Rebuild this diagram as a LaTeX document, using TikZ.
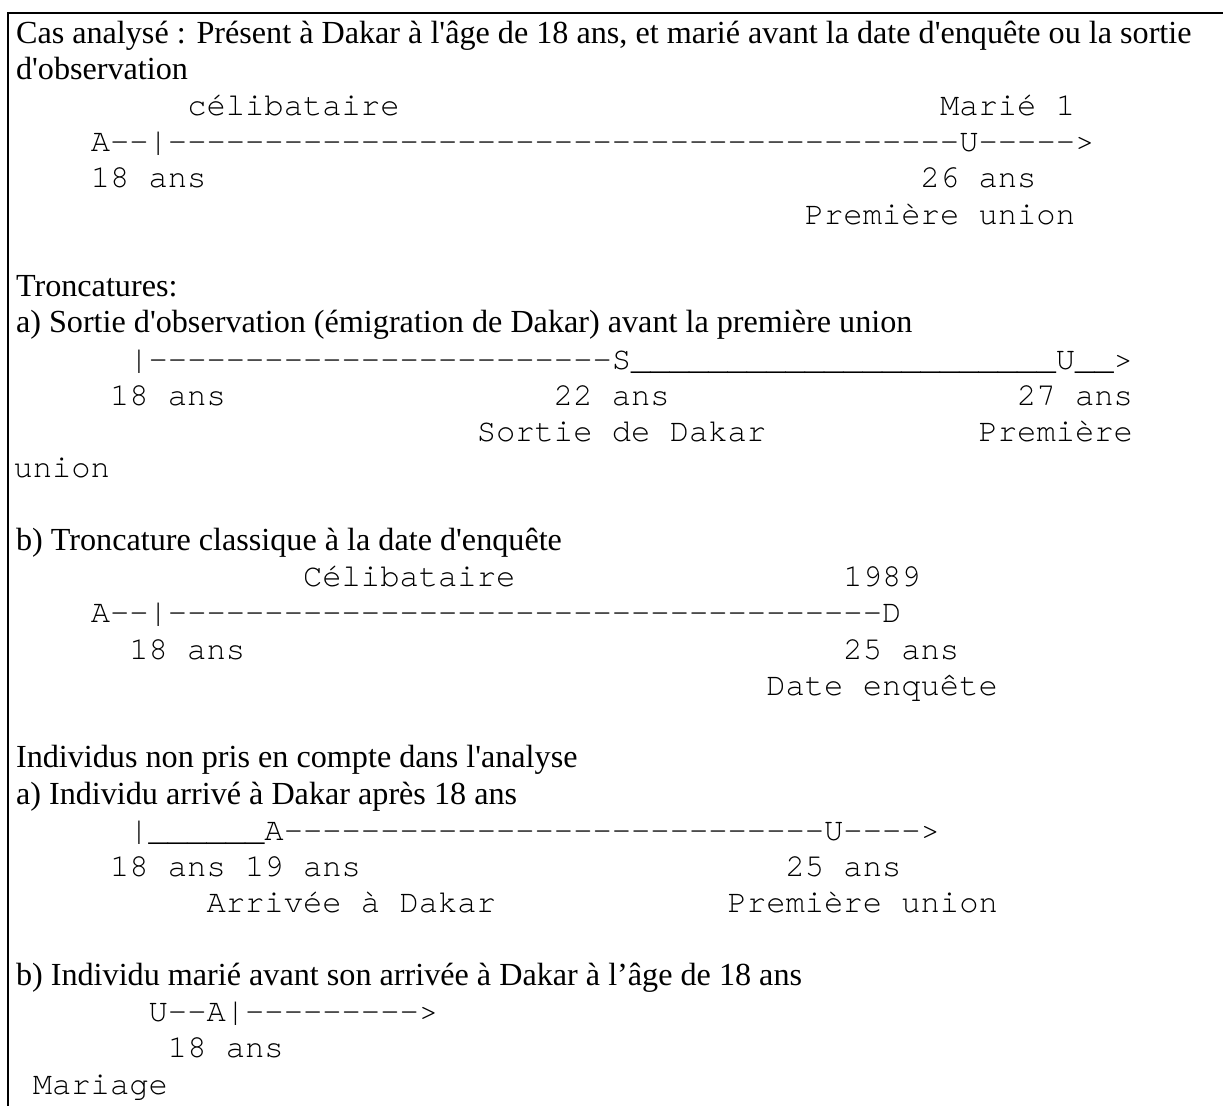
\documentclass[tikz,border=0pt]{standalone}
\usepackage{fontspec}
\setmainfont{Liberation Serif}
\setmonofont{texgyrecursor}[Extension=.otf,UprightFont=*-regular]
\newcommand{\rep}[2]{\foreach\i in {1,...,#1}{#2}}
\newcommand{\q}{\textquotesingle}
\begin{document}
\begin{tikzpicture}[x=7.2pt,y=-13.52pt,
  prose/.style={anchor=base west,inner sep=0pt,font=\fontsize{12}{14}\selectfont},
  typed/.style={anchor=base west,inner sep=0pt,font=\fontsize{12}{14}\selectfont\ttfamily}]
\useasboundingbox (-0.674,-1.187) rectangle (62.69,29.33);
\draw[line width=.75pt](62.69,-0.836)-|(-0.244,29.33);
% cas analyse
\node[prose] (cas) at (0.13,0) {Cas analysé : Présent à Dakar à l\q âge de 18 ans, et marié avant la date d\q enquête ou la sortie};
\node[prose] (cas2) at (0.13,1) {d\q observation};
\node[typed] (celib) at (9,2) {célibataire};
\node[typed] (marie) at (48,2) {Marié 1};
\node[typed] (axe1) at (4,3) {A--|\rep{41}{-}U-----{}>};
\node[typed] (age18a) at (4,4) {18 ans};
\node[typed] (age26) at (47,4) {26 ans};
\node[typed] (union1) at (41,5) {Première union};
% troncatures
\node[prose] (tronc) at (0.13,7) {Troncatures:};
\node[prose] (tronca) at (0.13,8) {a) Sortie d\q observation (émigration de Dakar) avant la première union};
\node[typed] (axe2) at (6,9) {|\rep{24}{-}S\rep{22}{\_}U\_\_>};
\node[typed] (age18b) at (5,10) {18 ans};
\node[typed] (age22) at (28,10) {22 ans};
\node[typed] (age27) at (52,10) {27 ans};
\node[typed] (sortie) at (24,11) {Sortie de Dakar};
\node[typed] (union2) at (50,11) {Première};
\node[typed] (union2b) at (0,12) {union};
\node[prose] (troncb) at (0.13,14) {b) Troncature classique à la date d\q enquête};
\node[typed] (celib2) at (15,15) {Célibataire};
\node[typed] (an1989) at (43,15) {1989};
\node[typed] (axe3) at (4,16) {A--|\rep{37}{-}D};
\node[typed] (age18c) at (6,17) {18 ans};
\node[typed] (age25a) at (43,17) {25 ans};
\node[typed] (enquete) at (39,18) {Date enquête};
% individus exclus
\node[prose] (exclus) at (0.13,20) {Individus non pris en compte dans l\q analyse};
\node[prose] (exclusa) at (0.13,21) {a) Individu arrivé à Dakar après 18 ans};
\node[typed] (axe4) at (6,22) {|\rep{6}{\_}A\rep{28}{-}U----{}>};
\node[typed] (age18d) at (5,23) {18 ans 19 ans};
\node[typed] (age25b) at (40,23) {25 ans};
\node[typed] (arrivee) at (10,24) {Arrivée à Dakar};
\node[typed] (union3) at (37,24) {Première union};
\node[prose] (exclusb) at (0.13,26) {b) Individu marié avant son arrivée à Dakar à l’âge de 18 ans};
\node[typed] (axe5) at (7,27) {U--A|\rep{9}{-}>};
\node[typed] (age18e) at (8,28) {18 ans};
\node[typed] (mariage) at (1,29) {Mariage};
\end{tikzpicture}
\end{document}
